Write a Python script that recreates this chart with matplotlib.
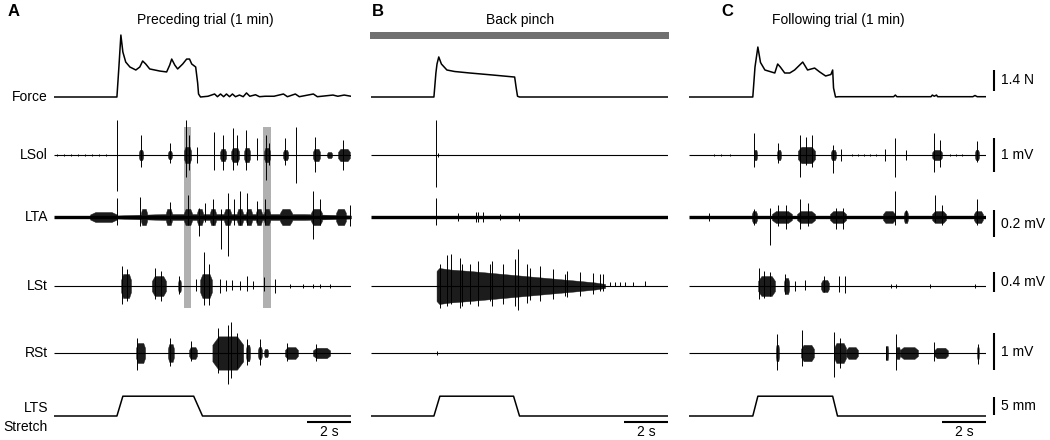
import matplotlib.pyplot as plt

plt.rcParams['font.family'] = ['Liberation Sans', 'DejaVu Sans']

W, H = 1050, 440
T_END = 13.5          # s shown per panel
PX_PER_S = 22

# ---------------- data (time in s, force in N, EMG in mV, stretch in mm) -------------
PANELS = ['A', 'B', 'C']
TITLES = ['Preceding trial (1 min)', 'Back pinch', 'Following trial (1 min)']
TRACE_NAMES = ['Force', 'LSol', 'LTA', 'LSt', 'RSt', 'LTS']

FORCE_A_T = [0, 2.86, 2.95, 3.04, 3.13, 3.26, 3.45, 3.72, 3.90, 4.03, 4.17, 4.35, 4.81,
             5.12, 5.26, 5.35, 5.49, 5.62, 5.85, 6.03, 6.16, 6.26, 6.44, 6.53, 6.57, 6.66,
             7.0, 7.30, 7.43, 7.57, 7.71, 7.84, 7.98, 8.11, 8.25, 8.43, 8.6, 8.75, 8.9,
             9.16, 9.34, 9.6, 10.0, 10.43, 10.61, 10.97, 11.15, 11.79, 11.97, 12.3,
             12.68, 12.9, 13.19, 13.5]
FORCE_A_N = [0, 0, 2.0, 4.13, 3.0, 2.33, 2.0, 1.8, 2.0, 2.4, 2.2, 1.87, 1.73,
             1.67, 2.13, 2.53, 2.13, 1.87, 2.2, 2.53, 2.53, 2.2, 2.0, 0.93, 0.2, 0,
             0.05, 0.2, 0.02, 0.2, 0.02, 0.2, 0.02, 0.2, 0.02, 0.13, 0.02, 0.27, 0.05,
             0.15, 0.02, 0.05, 0.05, 0.2, 0.02, 0.2, 0.02, 0.2, 0.02, 0.07,
             0.13, 0.05, 0.13, 0.05]
FORCE_B_T = [0, 2.86, 2.95, 3.0, 3.08, 3.2, 3.45, 3.8, 4.49, 5.5, 6.53, 6.6, 6.66, 6.75, 13.5]
FORCE_B_N = [0, 0, 1.6, 2.2, 2.67, 2.2, 1.8, 1.7, 1.6, 1.47, 1.33, 0.6, 0.05, 0, 0]
FORCE_C_T = [0, 2.90, 3.0, 3.13, 3.25, 3.45, 3.90, 4.03, 4.15, 4.35, 4.58, 4.8, 5.03,
             5.17, 5.39, 5.71, 5.94, 6.21, 6.45, 6.53, 6.57, 6.66, 6.8, 9.3, 9.38, 9.45,
             11.0, 11.06, 11.15, 11.25, 11.3, 12.9, 13.0, 13.1, 13.5]
FORCE_C_N = [0, 0, 2.0, 3.33, 2.3, 1.8, 1.6, 2.2, 2.0, 1.6, 1.6, 1.8, 2.13,
             2.33, 1.8, 1.93, 1.67, 1.4, 1.5, 1.8, 0.6, 0, 0.02, 0.02, 0.13, 0.02,
             0.02, 0.13, 0.05, 0.13, 0.02, 0.02, 0.1, 0.02, 0.02]

LTS_A_T = [0, 2.86, 3.13, 6.35, 6.75, 13.5]
LTS_B_T = [0, 2.86, 3.13, 6.48, 6.75, 13.5]
LTS_C_T = [0, 2.90, 3.13, 6.53, 6.75, 13.5]
LTS_MM = [0, 0, 5.5, 5.5, 0, 0]

# bursts: (start s, end s, half-height mV); spikes: (time s, up mV, down mV)
LSOL_A_BURSTS = [(3.86, 4.05, 0.15), (5.18, 5.36, 0.12), (5.91, 6.23, 0.24), (7.55, 7.82, 0.18),
                 (8.05, 8.41, 0.21), (8.64, 8.91, 0.21), (9.55, 9.82, 0.21), (10.41, 10.64, 0.15),
                 (11.77, 12.09, 0.18), (12.41, 12.64, 0.09), (12.91, 13.45, 0.18)]
LSOL_A_SPIKES = [(0.14, 0.04, 0.04), (0.45, 0.04, 0.04), (0.77, 0.04, 0.04), (1.09, 0.04, 0.04),
                 (1.41, 0.04, 0.04), (1.73, 0.04, 0.04), (2.05, 0.04, 0.04), (2.36, 0.04, 0.04),
                 (2.86, 1.03, 1.06), (3.95, 0.59, 0.35), (5.27, 0.35, 0.24), (6.0, 1.03, 0.65),
                 (6.14, 0.59, 0.44), (6.5, 0.24, 0.24), (7.27, 0.68, 0.44), (7.68, 0.59, 0.44),
                 (8.14, 0.79, 0.44), (8.32, 0.59, 0.29), (8.73, 0.74, 0.44), (9.23, 0.5, 0.15),
                 (9.64, 0.59, 0.74), (9.77, 0.35, 0.29), (10.5, 0.5, 0.29), (11.0, 0.82, 0.82),
                 (11.86, 0.53, 0.5), (13.14, 0.44, 0.44), (13.5, 0.38, 0.5)]
LSOL_B_BURSTS = []
LSOL_B_SPIKES = [(2.95, 1.03, 0.94), (3.05, 0.05, 0.05)]
LSOL_C_BURSTS = [(2.95, 3.09, 0.15), (4.0, 4.18, 0.15), (4.95, 5.73, 0.24), (6.45, 6.68, 0.15),
                 (11.05, 11.5, 0.15), (13.0, 13.18, 0.15)]
LSOL_C_SPIKES = [(1.14, 0.04, 0.04), (1.45, 0.04, 0.04), (1.86, 0.04, 0.04), (2.95, 0.65, 0.35),
                 (4.05, 0.35, 0.24), (5.05, 0.59, 0.65), (5.32, 0.53, 0.29), (5.59, 0.59, 0.35),
                 (6.55, 0.29, 0.53), (6.91, 0.18, 0.18), (7.41, 0.04, 0.04), (7.68, 0.04, 0.04),
                 (7.95, 0.04, 0.04), (8.23, 0.04, 0.04), (8.5, 0.04, 0.04), (8.91, 0.18, 0.18),
                 (9.36, 0.5, 0.65), (9.86, 0.15, 0.15), (11.14, 0.65, 0.5), (11.41, 0.44, 0.35),
                 (11.86, 0.04, 0.04), (12.14, 0.04, 0.04), (12.41, 0.04, 0.04), (13.09, 0.41, 0.2)]

LTA_A_BURSTS = [(1.64, 2.86, 0.037), (2.86, 13.5, 0.022), (3.95, 4.23, 0.06), (5.09, 5.36, 0.06),
                (5.91, 6.27, 0.06), (6.5, 6.77, 0.06), (7.09, 7.36, 0.06), (7.73, 8.05, 0.06),
                (8.32, 8.59, 0.06), (8.73, 9.0, 0.06), (9.18, 9.45, 0.06), (9.55, 9.82, 0.06),
                (10.27, 10.82, 0.06), (11.68, 12.18, 0.06), (12.82, 13.27, 0.06)]
LTA_A_SPIKES = [(2.86, 0.14, 0.06), (3.91, 0.15, 0.07), (5.27, 0.11, 0.04), (6.09, 0.16, 0.06),
                (6.59, 0.07, 0.14), (6.86, 0.1, 0.04), (7.23, 0.13, 0.06), (7.59, 0.06, 0.24),
                (7.91, 0.18, 0.29), (8.18, 0.13, 0.06), (8.45, 0.19, 0.06), (8.77, 0.18, 0.06),
                (9.23, 0.12, 0.04), (9.59, 0.13, 0.06), (11.77, 0.19, 0.16), (12.09, 0.13, 0.06),
                (13.45, 0.09, 0.07)]
LTA_B_BURSTS = []
LTA_B_SPIKES = [(2.95, 0.14, 0.06), (3.95, 0.03, 0.03), (4.77, 0.04, 0.04), (4.86, 0.04, 0.04),
                (5.09, 0.04, 0.04), (5.86, 0.02, 0.02), (6.73, 0.03, 0.03)]
LTA_C_BURSTS = [(2.86, 3.09, 0.044), (3.77, 4.68, 0.044), (4.91, 5.73, 0.044), (6.41, 7.14, 0.044),
                (8.82, 9.36, 0.044), (9.77, 9.95, 0.044), (11.05, 11.68, 0.044), (12.95, 13.36, 0.044)]
LTA_C_SPIKES = [(0.91, 0.03, 0.03), (2.95, 0.06, 0.06), (3.68, 0.07, 0.21), (4.05, 0.09, 0.07),
                (4.41, 0.09, 0.09), (5.05, 0.13, 0.09), (5.41, 0.1, 0.07), (6.68, 0.07, 0.09),
                (7.0, 0.07, 0.09), (9.36, 0.19, 0.06), (9.86, 0.05, 0.03), (11.18, 0.16, 0.04),
                (11.5, 0.09, 0.06), (13.09, 0.13, 0.06)]

LST_A_BURSTS = [(3.05, 3.5, 0.24), (4.45, 5.09, 0.2), (5.64, 5.77, 0.12), (6.64, 7.18, 0.24)]
LST_A_SPIKES = [(3.09, 0.4, 0.36), (3.32, 0.34, 0.3), (4.59, 0.36, 0.26), (4.86, 0.3, 0.3),
                (5.68, 0.2, 0.16), (6.45, 0.14, 0.1), (6.82, 0.68, 0.38), (7.05, 0.44, 0.38),
                (7.55, 0.14, 0.14), (7.82, 0.12, 0.1), (8.09, 0.12, 0.08), (8.45, 0.1, 0.08),
                (8.77, 0.2, 0.1), (9.05, 0.1, 0.06), (9.55, 0.18, 0.1), (10.05, 0.14, 0.14),
                (10.73, 0.04, 0.04), (11.32, 0.04, 0.04), (11.77, 0.04, 0.04), (12.09, 0.04, 0.04),
                (12.55, 0.04, 0.04)]
# LSt during the pinch: one continuous discharge, given as an envelope
LST_B_ENV_T = [2.98, 3.1, 3.6, 4.5, 5.5, 6.5, 7.5, 8.5, 9.5, 10.2, 10.64]
LST_B_ENV_MV = [0.3, 0.36, 0.33, 0.3, 0.26, 0.22, 0.18, 0.14, 0.1, 0.07, 0.04]
LST_B_BURSTS = []
LST_B_SPIKES = [(3.14, 0.44, 0.44), (3.45, 0.62, 0.4), (3.64, 0.64, 0.36), (4.05, 0.56, 0.45),
                (4.14, 0.44, 0.4), (4.5, 0.44, 0.36), (4.86, 0.5, 0.4), (5.41, 0.44, 0.3),
                (5.5, 0.5, 0.4), (6.0, 0.44, 0.36), (6.55, 0.54, 0.4), (6.68, 0.74, 0.48),
                (7.09, 0.44, 0.34), (7.23, 0.36, 0.28), (7.68, 0.4, 0.3), (8.27, 0.34, 0.26),
                (8.82, 0.24, 0.2), (8.91, 0.3, 0.22), (9.5, 0.28, 0.2), (10.09, 0.26, 0.16),
                (10.41, 0.24, 0.1), (10.55, 0.24, 0.1),
                (10.86, 0.08, 0.0), (11.09, 0.08, 0.0), (11.32, 0.08, 0.0), (11.55, 0.08, 0.0),
                (11.91, 0.08, 0.0), (12.45, 0.1, 0.0)]
LST_C_BURSTS = [(3.14, 3.91, 0.2), (4.32, 4.55, 0.16), (6.0, 6.36, 0.12)]
LST_C_SPIKES = [(3.18, 0.36, 0.26), (3.41, 0.3, 0.24), (3.68, 0.28, 0.2), (4.36, 0.24, 0.16),
                (4.82, 0.1, 0.1), (5.27, 0.12, 0.08), (6.14, 0.2, 0.12), (6.82, 0.2, 0.12),
                (7.09, 0.2, 0.14), (9.18, 0.04, 0.04), (9.41, 0.04, 0.04), (10.95, 0.04, 0.04),
                (13.0, 0.04, 0.04)]

RST_A_BURSTS = [(3.73, 4.14, 0.27), (5.18, 5.45, 0.24), (6.14, 6.5, 0.16), (7.2, 8.6, 0.45),
                (8.73, 8.91, 0.22), (9.27, 9.45, 0.16),
                (9.55, 9.73, 0.11), (10.5, 11.09, 0.16), (11.77, 12.55, 0.14)]
RST_A_SPIKES = [(3.77, 0.41, 0.46), (5.27, 0.41, 0.35), (6.23, 0.32, 0.22), (7.45, 0.68, 0.54),
                (7.91, 0.76, 0.84), (8.05, 0.84, 0.68), (8.32, 0.54, 0.41), (8.77, 0.38, 0.32),
                (9.36, 0.38, 0.32), (10.59, 0.27, 0.22), (11.91, 0.24, 0.22)]
RST_B_BURSTS = []
RST_B_SPIKES = [(2.98, 0.05, 0.05)]
RST_C_BURSTS = [(3.95, 4.09, 0.22), (5.09, 5.68, 0.22), (6.59, 7.14, 0.27), (7.14, 7.68, 0.16),
                (8.95, 9.05, 0.19), (9.41, 9.59, 0.16), (9.59, 10.41, 0.16), (11.14, 11.77, 0.14),
                (13.09, 13.18, 0.16)]
RST_C_SPIKES = [(4.0, 0.51, 0.46), (5.14, 0.62, 0.35), (6.59, 0.57, 0.65), (6.86, 0.41, 0.41),
                (8.95, 0.19, 0.19), (9.41, 0.51, 0.46), (11.14, 0.3, 0.22), (13.14, 0.24, 0.3)]

SCALE_LABELS = ['1.4 N', '1 mV', '0.2 mV', '0.4 mV', '1 mV', '5 mm']
SCALE_VALUES = [1.4, 1.0, 0.2, 0.4, 1.0, 5.0]
HIGHLIGHTS_A = [(5.91, 6.23), (9.5, 9.86)]

# ---------------- layout (pixels) ----------------
PANEL_X0 = [54, 371, 689]
BASE = {'Force': 97, 'LSol': 155, 'LTA': 217, 'LSt': 286, 'RSt': 353, 'LTS': 416}
GAIN = {'Force': 15, 'LSol': 34, 'LTA': 135, 'LSt': 50, 'RSt': 37, 'LTS': 3.6}
SCALE_TOPS = [70, 138, 210, 272, 333, 397]
BURST_COLOR = '#1c1c1c'

FORCE = [(FORCE_A_T, FORCE_A_N), (FORCE_B_T, FORCE_B_N), (FORCE_C_T, FORCE_C_N)]
LTS_T = [LTS_A_T, LTS_B_T, LTS_C_T]
EMG = {
    'LSol': [(LSOL_A_BURSTS, LSOL_A_SPIKES), (LSOL_B_BURSTS, LSOL_B_SPIKES), (LSOL_C_BURSTS, LSOL_C_SPIKES)],
    'LTA': [(LTA_A_BURSTS, LTA_A_SPIKES), (LTA_B_BURSTS, LTA_B_SPIKES), (LTA_C_BURSTS, LTA_C_SPIKES)],
    'LSt': [(LST_A_BURSTS, LST_A_SPIKES), (LST_B_BURSTS, LST_B_SPIKES), (LST_C_BURSTS, LST_C_SPIKES)],
    'RSt': [(RST_A_BURSTS, RST_A_SPIKES), (RST_B_BURSTS, RST_B_SPIKES), (RST_C_BURSTS, RST_C_SPIKES)],
}


def fx(px):
    return px / W


def fy(py):
    return 1 - py / H


def draw_emg(ax, name, bursts, spikes):
    base, g = BASE[name], GAIN[name]
    ax.plot([0, T_END], [base, base], color='k', lw=2.4 if name == 'LTA' else 0.8,
            solid_capstyle='butt')
    for t0, t1, c in bursts:
        # dense burst, tapered at both ends
        d = t1 - t0
        xs = [t0, t0 + 0.2 * d, t1 - 0.2 * d, t1]
        amp = [0.5 * c * g, c * g, c * g, 0.5 * c * g]
        ax.fill_between(xs, [base - a for a in amp], [base + a for a in amp],
                        color=BURST_COLOR, lw=0.3)
    for t, up, dn in spikes:
        ax.vlines(t, base - up * g, base + dn * g, color='k', lw=0.7)


fig = plt.figure(figsize=(W / 100, H / 100), dpi=100)

axes = []
for i, x0 in enumerate(PANEL_X0):
    ax = fig.add_axes([fx(x0), 0, T_END * PX_PER_S / W, 1])
    ax.set_xlim(0, T_END)
    ax.set_ylim(H, 0)
    ax.axis('off')
    axes.append(ax)

    t, f = FORCE[i]
    ax.plot(t, [BASE['Force'] - v * GAIN['Force'] for v in f], color='k', lw=1.1)
    for name, per_panel in EMG.items():
        draw_emg(ax, name, *per_panel[i])
    ax.plot(LTS_T[i], [BASE['LTS'] - v * GAIN['LTS'] for v in LTS_MM], color='k', lw=1.1)

    # 2 s time bar
    ax.plot([T_END - 2, T_END], [422, 422], color='k', lw=1.5, solid_capstyle='butt', clip_on=False)
    ax.text(T_END - 1, 432, '2 s', ha='center', va='center', fontsize=10)

# continuous LSt discharge during the back pinch
g = GAIN['LSt']
axes[1].fill_between(LST_B_ENV_T, [BASE['LSt'] - v * g for v in LST_B_ENV_MV],
                     [BASE['LSt'] + v * g for v in LST_B_ENV_MV], color=BURST_COLOR, lw=0.3)

# highlights in panel A
for t0, t1 in HIGHLIGHTS_A:
    axes[0].fill_between([t0, t1], 127, 308, color='#b0b0b0', lw=0, zorder=0)

# back pinch bar
axes[1].fill_between([-0.05, T_END + 0.05], 32, 39, color='#707070', lw=0, clip_on=False)

# vertical scale bars, right of C
axC = axes[2]
bar_t = (994 - PANEL_X0[2]) / PX_PER_S
txt_t = (1001 - PANEL_X0[2]) / PX_PER_S
for name, lab, val, top in zip(TRACE_NAMES, SCALE_LABELS, SCALE_VALUES, SCALE_TOPS):
    length = val * GAIN[name]
    axC.plot([bar_t, bar_t], [top, top + length], color='k', lw=1.5, clip_on=False,
             solid_capstyle='butt')
    axC.text(txt_t, top + length / 2, lab, ha='left', va='center', fontsize=10, clip_on=False)

# row labels
for name in ['Force', 'LSol', 'LTA', 'LSt', 'RSt']:
    fig.text(fx(48), fy(BASE[name]), name, ha='right', va='center', fontsize=10)
fig.text(fx(48), fy(408), 'LTS', ha='right', va='center', fontsize=10)
fig.text(fx(48), fy(427), 'Stretch', ha='right', va='center', fontsize=10)

# panel letters and titles
for letter, lx, ly in zip(PANELS, [8, 372, 721], [11, 11, 11]):
    fig.text(fx(lx), fy(ly), letter, ha='left', va='center', fontsize=12, fontweight='bold')
for title, cx in zip(TITLES, [205, 520, 838]):
    fig.text(fx(cx), fy(20), title, ha='center', va='center', fontsize=10)

fig.savefig('out.png', dpi=100)
